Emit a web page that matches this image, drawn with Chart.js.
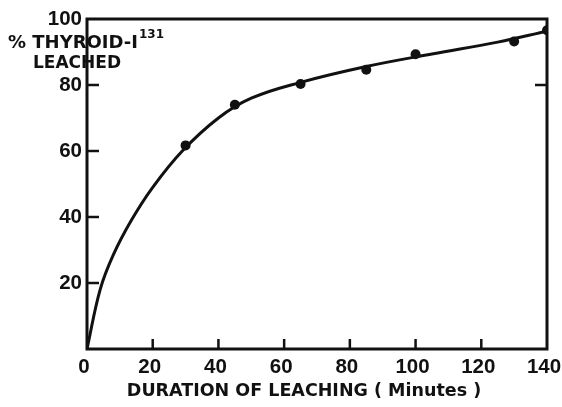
<!DOCTYPE html>
<html>
<head>
<meta charset="utf-8">
<script src="https://cdn.jsdelivr.net/npm/chart.js@4/dist/chart.umd.min.js"></script>
<style>
  html, body { margin: 0; padding: 0; background: #fff; }
  #wrap { width: 562px; height: 407px; }
</style>
</head>
<body>
<div id="wrap"><canvas id="chart"></canvas></div>
<script>
// smooth fitted curve
const curveX = [0, 4, 8, 13.5, 20, 29, 40, 50, 65, 85, 105, 125, 140];
const curveY = [0, 18, 28.5, 39, 49, 60, 70, 76, 80.8, 85.6, 89.4, 93, 96.3];

// measured points
const pointX = [30, 45, 65, 85, 100, 130, 140];
const pointY = [61.7, 74, 80.3, 84.6, 89.3, 93.2, 96.6];

const xTicks = [0, 20, 40, 60, 80, 100, 120, 140];
const yTicks = [20, 40, 60, 80, 100];

const xTitle = 'DURATION OF LEACHING ( Minutes )';
const yTitle1 = '% THYROID-I';
const yTitleSup = '131';
const yTitle2 = 'LEACHED';

const FONT = '"DejaVu Sans", sans-serif';
const TICK_FONT = '"Liberation Sans", Arial, sans-serif';
const INK = '#111';

// box frame, inward ticks and the axis labels
const framePlugin = {
    id: 'frame',
    afterDraw(chart) {
        const ctx = chart.ctx;
        const a = chart.chartArea;
        const xs = chart.scales.x, ys = chart.scales.y;
        ctx.save();
        ctx.strokeStyle = INK;
        ctx.lineWidth = 3;
        ctx.strokeRect(a.left, a.top, a.right - a.left, a.bottom - a.top);

        ctx.lineWidth = 2.5;
        xTicks.forEach(v => {
            if (v === 0 || v === 140) return;
            const px = xs.getPixelForValue(v);
            ctx.beginPath();
            ctx.moveTo(px, a.bottom);
            ctx.lineTo(px, a.bottom - 10);
            ctx.stroke();
        });
        yTicks.forEach(v => {
            if (v === 100) return;
            const py = ys.getPixelForValue(v);
            ctx.beginPath();
            ctx.moveTo(a.left, py);
            ctx.lineTo(a.left + 12, py);
            ctx.stroke();
            if (v === 80) {
                ctx.beginPath();
                ctx.moveTo(a.right, py);
                ctx.lineTo(a.right - 12, py);
                ctx.stroke();
            }
        });

        ctx.fillStyle = INK;
        ctx.textBaseline = 'middle';
        ctx.font = 'bold 17.5px ' + FONT;
        ctx.textAlign = 'center';
        ctx.fillText(xTitle, 304, a.bottom + 42);

        ctx.textAlign = 'left';
        ctx.font = 'bold 18px ' + FONT;
        ctx.fillText(yTitle1, 8, 43);
        const w = ctx.measureText(yTitle1).width;
        ctx.font = 'bold 12px ' + FONT;
        ctx.fillText(yTitleSup, 8 + w + 1, 35);
        ctx.font = 'bold 17px ' + FONT;
        ctx.fillText(yTitle2, 33, 64);
        ctx.restore();
    }
};

new Chart(document.getElementById('chart'), {
    type: 'scatter',
    data: {
        datasets: [
            {
                label: 'curve',
                data: curveX.map((x, i) => ({ x: x, y: curveY[i] })),
                showLine: true,
                borderColor: INK,
                borderWidth: 3,
                pointRadius: 0,
                tension: 0.4,
                fill: false
            },
            {
                label: 'points',
                data: pointX.map((x, i) => ({ x: x, y: pointY[i] })),
                showLine: false,
                pointRadius: 5,
                pointBackgroundColor: INK,
                pointBorderColor: INK,
                pointBorderWidth: 0
            }
        ]
    },
    options: {
        responsive: true,
        maintainAspectRatio: false,
        animation: false,
        layout: { autoPadding: false, padding: { top: 19, right: 15, left: 0, bottom: 0 } },
        plugins: {
            legend: { display: false },
            tooltip: { enabled: false }
        },
        scales: {
            x: {
                type: 'linear',
                min: 0,
                max: 140,
                afterFit: s => { s.height = 58; s.paddingLeft = 0; s.paddingRight = 0; },
                afterBuildTicks: s => { s.ticks = xTicks.map(v => ({ value: v })); },
                grid: { display: false, drawTicks: false },
                border: { display: false },
                ticks: {
                    color: INK,
                    padding: 6,
                    labelOffset: -3,
                    font: { family: TICK_FONT, size: 20.5, weight: 'bold' }
                }
            },
            y: {
                type: 'linear',
                min: 0,
                max: 100,
                afterFit: s => { s.width = 87; s.paddingTop = 0; s.paddingBottom = 0; },
                afterBuildTicks: s => { s.ticks = yTicks.map(v => ({ value: v })); },
                grid: { display: false, drawTicks: false },
                border: { display: false },
                ticks: {
                    color: INK,
                    padding: 5,
                    font: { family: TICK_FONT, size: 20.5, weight: 'bold' }
                }
            }
        }
    },
    plugins: [framePlugin]
});
</script>
</body>
</html>
